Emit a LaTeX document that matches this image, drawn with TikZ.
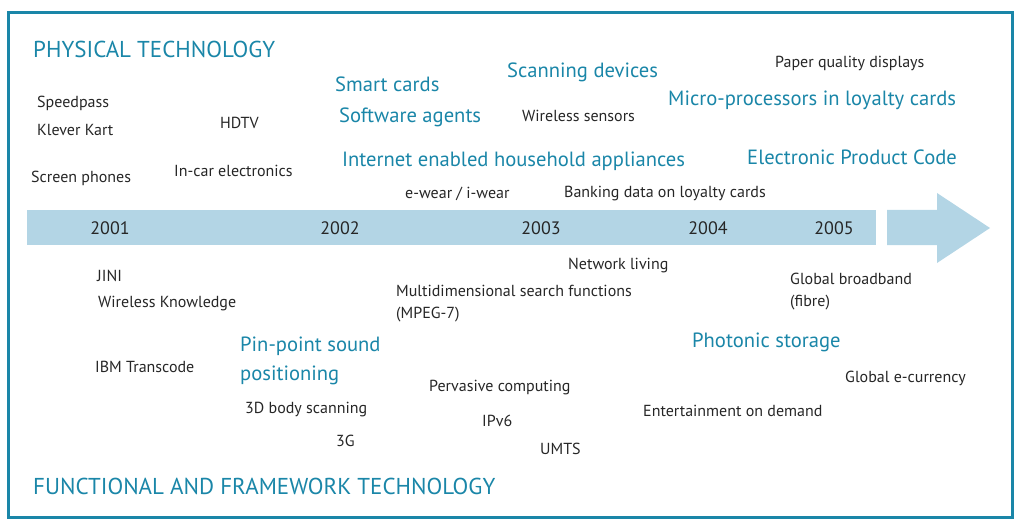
\documentclass[tikz,border=0pt]{standalone}
\usepackage{fontspec}
\setmainfont{PT Sans}
\usetikzlibrary{positioning}
\definecolor{techblue}{HTML}{1A86A8}
\definecolor{barblue}{HTML}{B3D5E5}

\begin{document}
\begin{tikzpicture}[x=1pt,y=-1pt,
  item/.style={anchor=west,inner sep=0pt,yshift=-2pt,font=\fontsize{16}{22}\selectfont,text=black!85,align=left},
  key/.style={anchor=west,inner sep=0pt,yshift=-0.5pt,font=\fontsize{20.6}{29}\selectfont,text=techblue,align=left},
  head/.style={anchor=west,inner sep=0pt,yshift=-1pt,font=\fontsize{23}{26}\selectfont,text=techblue},
  year/.style={inner sep=0pt,font=\fontsize{18}{20}\selectfont,text=black!85}]
  \useasboundingbox (0,0) rectangle (1016,521);
  \draw[techblue,line width=3] (8,13) rectangle (1012,517);

  % time line
  \fill[barblue] (27,210) rectangle (876,245);
  \fill[barblue] (887,210) -- (937,210) -- (937,193) -- (990,228)
    -- (937,263) -- (937,245) -- (887,245) -- cycle;
  \node[year](y2001) at (110,228) {2001};
  \node[year](y2002) at (340,228) {2002};
  \node[year](y2003) at (541,228) {2003};
  \node[year](y2004) at (708,228) {2004};
  \node[year](y2005) at (834,228) {2005};

  % physical technology
  \node[head](phys) at (33,48) {PHYSICAL TECHNOLOGY};
  \node[item](speed) at (37,101) {Speedpass};
  \node[item](klever) at (37,128) {Klever Kart};
  \node[item](hdtv) at (220,121) {HDTV};
  \node[item](screen) at (31,176) {Screen phones};
  \node[item](incar) at (174,169) {In-car electronics};
  \node[key](smart) at (335,84) {Smart cards};
  \node[key](agents) at (339,117) {Software agents};
  \node[key](scan) at (507,72) {Scanning devices};
  \node[item](sensors) at (522,114) {Wireless sensors};
  \node[item](paper) at (775,61) {Paper quality displays};
  \node[key](micro) at (668,100) {Micro-processors in loyalty cards};
  \node[key](internet) at (342,161) {Internet enabled household appliances};
  \node[key](epc) at (747,157) {Electronic Product Code};
  \node[item](ewear) at (405,192) {e-wear / i-wear};
  \node[item](banking) at (564,192) {Banking data on loyalty cards};

  % functional and framework technology
  \node[item](jini) at (97,274) {JINI};
  \node[item](wk) at (98,302) {Wireless Knowledge};
  \node[item](ibm) at (95,365) {IBM Transcode};
  \node[key](pinpoint) at (240,360.5) {Pin-point sound\\positioning};
  \node[item](body) at (245,408) {3D body scanning};
  \node[item](g3) at (336,439) {3G};
  \node[item](multi) at (396,301.5) {Multidimensional search functions\\(MPEG-7)};
  \node[item](netliv) at (568,264) {Network living};
  \node[item](pervasive) at (429,386) {Pervasive computing};
  \node[item](ipv6) at (482,419) {IPv6};
  \node[item](umts) at (540,447) {UMTS};
  \node[item](broadband) at (790,290) {Global broadband\\(fibre)};
  \node[key](photonic) at (692,342) {Photonic storage};
  \node[item](ecur) at (845,376) {Global e-currency};
  \node[item](ent) at (643,409) {Entertainment on demand};
  \node[head](func) at (33,485) {FUNCTIONAL AND FRAMEWORK TECHNOLOGY};
\end{tikzpicture}
\end{document}
